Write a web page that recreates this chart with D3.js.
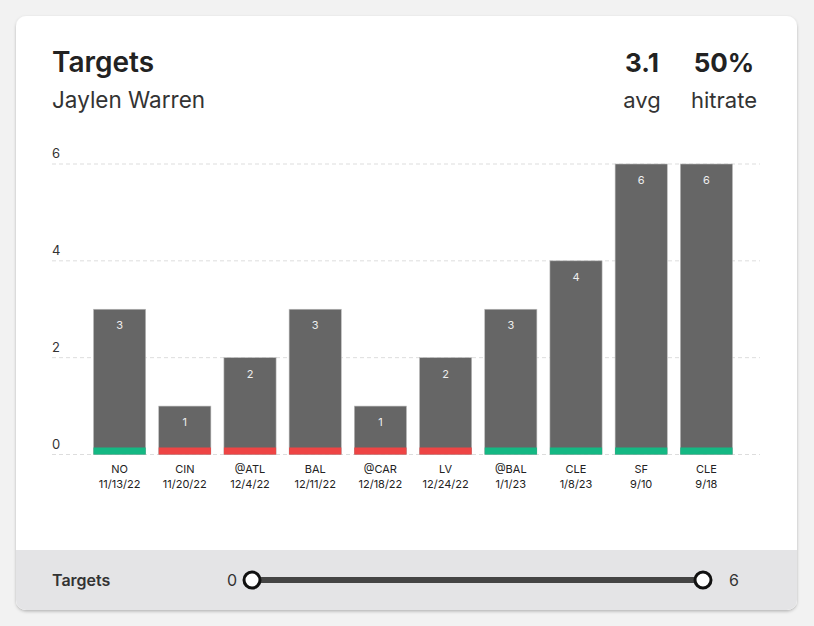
<!DOCTYPE html><html><head><meta charset="utf-8"><script src="https://cdn.jsdelivr.net/npm/d3@7"></script>
<style>body{margin:0;background:#f2f2f2;font-family:Inter,"Noto Sans",sans-serif}</style></head><body><svg id="c" width="814" height="626"></svg><script>
const opponents=["NO","CIN","@ATL","BAL","@CAR","LV","@BAL","CLE","SF","CLE"];
const dates=["11/13/22","11/20/22","12/4/22","12/11/22","12/18/22","12/24/22","1/1/23","1/8/23","9/10","9/18"];
const targets=[3,1,2,3,1,2,3,4,6,6];
const hit=[true,false,false,false,false,false,true,true,true,true];
const yTicks=[0,2,4,6];
const svg=d3.select("#c");
const defs=svg.append("defs");
const f=defs.append("filter").attr("id","sh").attr("x","-5%").attr("y","-5%").attr("width","110%").attr("height","110%");
f.append("feDropShadow").attr("dx",0).attr("dy",1.5).attr("stdDeviation",1.5).attr("flood-color","#000").attr("flood-opacity",0.25);
const cp=defs.append("clipPath").attr("id","cc");cp.append("rect").attr("x",16).attr("y",16).attr("width",781).attr("height",594).attr("rx",10);
svg.append("rect").attr("x",16).attr("y",16).attr("width",781).attr("height",594).attr("rx",10).attr("fill","#fff").attr("filter","url(#sh)");
svg.append("rect").attr("x",16).attr("y",550).attr("width",781).attr("height",60).attr("fill","#e4e4e6").attr("clip-path","url(#cc)");
svg.append("text").attr("x",52).attr("y",72).attr("font-size",28).attr("font-weight",600).attr("fill","#222").text("Targets");
svg.append("text").attr("x",52).attr("y",108).attr("font-size",22.5).attr("fill","#333").text("Jaylen Warren");
const avg=d3.mean(targets), hr=d3.mean(hit,d=>d?1:0);
[[642,avg.toFixed(1),"avg"],[724,Math.round(hr*100)+"%","hitrate"]].forEach(([x,v,l])=>{
 svg.append("text").attr("x",x).attr("y",72).attr("text-anchor","middle").attr("font-size",26).attr("font-weight",700).attr("fill","#222").text(v);
 svg.append("text").attr("x",x).attr("y",108).attr("text-anchor","middle").attr("font-size",22).attr("fill","#333").text(l);
});
const x=d3.scaleBand().domain(d3.range(targets.length)).range([87,739]).paddingInner(0.2).paddingOuter(0.1);
const y=d3.scaleLinear().domain([0,6]).range([454.5,164]);
const g=svg.append("g");
yTicks.forEach(t=>{
 g.append("line").attr("x1",52).attr("x2",760).attr("y1",y(t)).attr("y2",y(t)).attr("stroke","#ddd").attr("stroke-dasharray","4,3");
 g.append("text").attr("x",52).attr("y",y(t)-6).attr("font-size",13).attr("fill","#333").text(t);
});
targets.forEach((v,i)=>{
 g.append("rect").attr("x",x(i)).attr("y",y(v)).attr("width",x.bandwidth()).attr("height",y(0)-y(v)).attr("fill","#666").attr("stroke","#bbb").attr("stroke-width",0.6);
 g.append("rect").attr("x",x(i)).attr("y",y(0)-7).attr("width",x.bandwidth()).attr("height",7).attr("fill",hit[i]?"#14b883":"#ee4444");
 g.append("text").attr("x",x(i)+x.bandwidth()/2).attr("y",y(v)+20).attr("text-anchor","middle").attr("font-size",11).attr("fill","#eee").text(v);
 g.append("text").attr("x",x(i)+x.bandwidth()/2).attr("y",473).attr("text-anchor","middle").attr("font-size",11).attr("fill","#222").text(opponents[i]);
 g.append("text").attr("x",x(i)+x.bandwidth()/2).attr("y",488).attr("text-anchor","middle").attr("font-size",11).attr("fill","#222").text(dates[i]);
});
const s=d3.scaleLinear().domain([0,6]).range([252,703]);
svg.append("text").attr("x",52).attr("y",586).attr("font-size",16).attr("font-weight",600).attr("fill","#333").text("Targets");
svg.append("line").attr("x1",s(0)).attr("x2",s(6)).attr("y1",580).attr("y2",580).attr("stroke","#444").attr("stroke-width",6);
[0,6].forEach(v=>svg.append("circle").attr("cx",s(v)).attr("cy",580).attr("r",8).attr("fill","#fff").attr("stroke","#111").attr("stroke-width",3));
svg.append("text").attr("x",s(0)-20).attr("y",586).attr("text-anchor","middle").attr("font-size",16).attr("fill","#333").text(0);
svg.append("text").attr("x",s(6)+31).attr("y",586).attr("text-anchor","middle").attr("font-size",16).attr("fill","#333").text(6);
</script></body></html>
